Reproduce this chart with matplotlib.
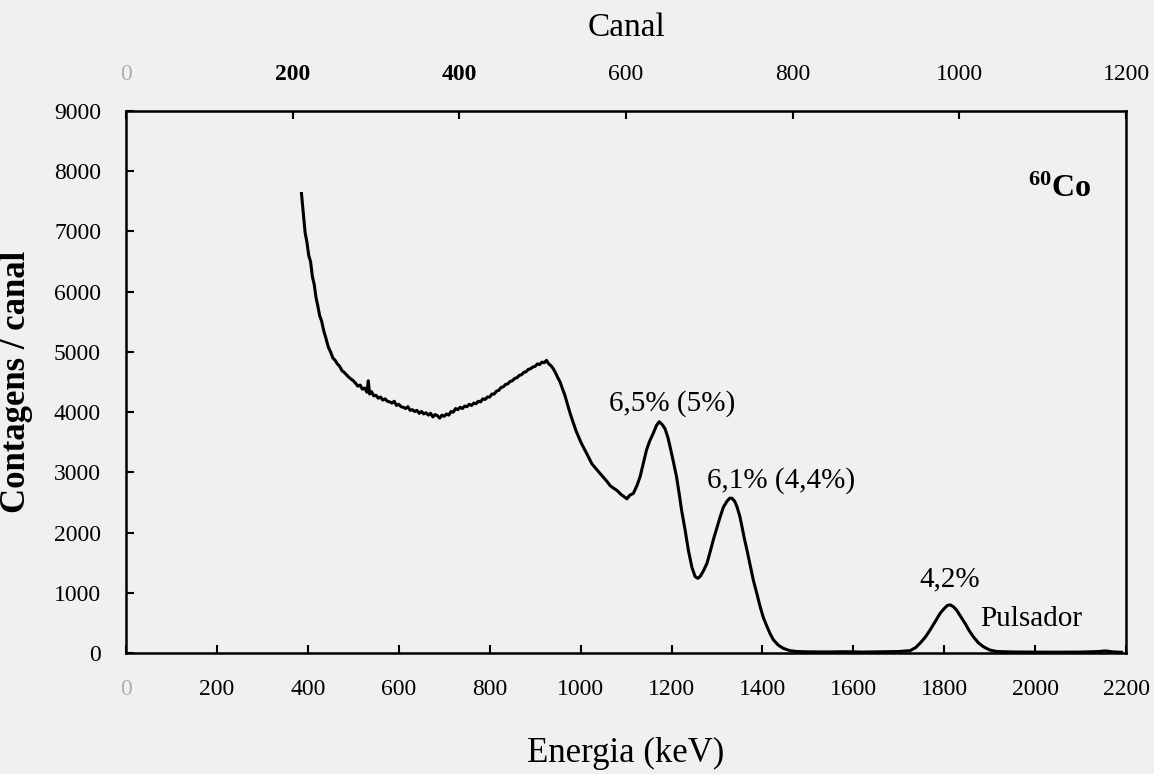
import matplotlib
matplotlib.use("Agg")
import matplotlib.pyplot as plt

plt.rcParams["font.family"] = ["Liberation Serif", "DejaVu Serif"]
plt.rcParams["mathtext.fontset"] = "custom"
plt.rcParams["mathtext.rm"] = "Liberation Serif"
plt.rcParams["mathtext.bf"] = "Liberation Serif:bold"

# ------------------------------------------------------------
# Spectrum (energy in keV, counts per channel)
# ------------------------------------------------------------
energia = [
    386, 390, 394, 398, 402, 406, 410, 414, 418, 422, 426, 430, 435, 440, 445,
    450, 455, 460, 465, 470, 475, 480, 485, 490, 495, 500, 505, 510, 515, 520,
    525, 530, 533, 536, 540, 545, 550, 555, 560, 565, 570, 575, 580, 585, 590,
    595, 600, 605, 610, 615, 620, 625, 630, 635, 640, 645, 650, 655, 660, 665,
    670, 675, 680, 685, 690, 695, 700, 705, 710, 715, 720, 725, 730, 735, 740,
    745, 750, 755, 760, 765, 770, 775, 780, 785, 790, 795, 800, 805, 810, 815,
    820, 825, 830, 835, 840, 845, 850, 855, 860, 865, 870, 875, 880, 885, 890,
    895, 900, 905, 910, 915, 920, 925, 930, 935, 940, 945, 950, 955, 960, 965,
    970, 975, 980, 985, 990, 995, 1000, 1006, 1015, 1025, 1035, 1043, 1050, 1058,
    1065, 1072, 1080, 1088, 1095, 1102, 1108, 1116, 1124, 1131, 1138, 1145, 1152,
    1160, 1167, 1173, 1180, 1186, 1192, 1197, 1204, 1211, 1217, 1222, 1230, 1237,
    1245, 1252, 1258, 1263, 1270, 1278, 1285, 1292, 1300, 1307, 1314, 1322, 1328,
    1333, 1339, 1344, 1350, 1355, 1360, 1366, 1373, 1380, 1388, 1395, 1402, 1410,
    1417, 1424, 1435, 1446, 1460, 1476, 1500, 1540, 1580, 1620, 1660, 1700, 1725,
    1737, 1747, 1758, 1769, 1780, 1791, 1800, 1807, 1813, 1820, 1827, 1836, 1846,
    1855, 1864, 1875, 1886, 1900, 1916, 1950, 2000, 2050, 2100, 2140, 2155, 2170,
    2190,
]
contagens = [
    7630, 7310, 6980, 6820, 6600, 6500, 6250, 6120, 5900, 5760, 5600, 5520, 5350, 5220, 5080,
    5000, 4900, 4860, 4800, 4760, 4690, 4660, 4620, 4580, 4550, 4520, 4480, 4430, 4450, 4380,
    4400, 4330, 4520, 4300, 4340, 4270, 4280, 4230, 4250, 4200, 4220, 4180, 4170, 4150, 4180,
    4110, 4130, 4090, 4080, 4060, 4090, 4030, 4040, 4010, 4030, 3980, 4010, 3970, 3990, 3950,
    3980, 3920, 3960, 3940, 3900, 3950, 3930, 3970, 3950, 4010, 4000, 4060, 4040, 4080, 4060,
    4100, 4090, 4130, 4110, 4150, 4140, 4180, 4170, 4220, 4210, 4250, 4250, 4300, 4300, 4350,
    4360, 4410, 4420, 4460, 4470, 4510, 4520, 4560, 4570, 4610, 4620, 4660, 4670, 4710, 4720,
    4750, 4760, 4800, 4790, 4830, 4820, 4860, 4800, 4770, 4720, 4650, 4570, 4500, 4390, 4290,
    4160, 4030, 3910, 3800, 3690, 3600, 3510, 3420, 3290, 3140, 3050, 2980, 2920, 2850,
    2780, 2740, 2700, 2640, 2600, 2560, 2620, 2650, 2780, 2930, 3150, 3370, 3520,
    3650, 3780, 3840, 3790, 3720, 3580, 3420, 3180, 2930, 2640, 2380, 2040, 1710,
    1420, 1270, 1240, 1270, 1360, 1490, 1680, 1880, 2080, 2260, 2420, 2520, 2570,
    2570, 2520, 2430, 2280, 2100, 1910, 1710, 1460, 1210, 980, 770, 590, 440,
    320, 220, 130, 78, 40, 25, 20, 18, 22, 16, 20, 25, 40,
    90, 165, 260, 385, 520, 660, 740, 790, 800, 770, 715, 610, 490,
    370, 270, 170, 105, 50, 25, 18, 15, 14, 16, 25, 35, 20,
    12,
]

x_ticks = [0, 200, 400, 600, 800, 1000, 1200, 1400, 1600, 1800, 2000, 2200]
y_ticks = [0, 1000, 2000, 3000, 4000, 5000, 6000, 7000, 8000, 9000]
canal_ticks = [0, 200, 400, 600, 800, 1000, 1200]
e_max = 2200
canal_max = 1200

bg = "#f0f0f0"
fig = plt.figure(figsize=(11.54, 7.74), dpi=100, facecolor=bg)
ax = fig.add_axes([0.1092, 0.1563, 0.8666, 0.7003])
ax.set_facecolor(bg)

ax.plot(energia, contagens, color="black", lw=2.2)

ax.set_xlim(0, e_max)
ax.set_ylim(0, 9000)
ax.set_xticks(x_ticks)
ax.set_yticks(y_ticks)
ax.tick_params(axis="both", direction="in", length=6, width=1.5, labelsize=17)
ax.tick_params(axis="x", pad=19)
ax.tick_params(axis="y", pad=18)
for s in ax.spines.values():
    s.set_linewidth(1.8)

ax.set_xlabel("Energia (keV)", fontsize=25)
ax.xaxis.set_label_coords(0.5, -0.155)
ax.set_ylabel("Contagens / canal", fontsize=25, fontweight="bold")
ax.yaxis.set_label_coords(-0.093, 0.5)

# top axis in channels
top = ax.secondary_xaxis("top", functions=(lambda e: e * canal_max / e_max,
                                            lambda c: c * e_max / canal_max))
top.set_xticks(canal_ticks)
top.tick_params(direction="in", length=6, width=1.5, labelsize=17, pad=19)
top.set_xlabel("Canal", fontsize=24, labelpad=20)

# faded zero labels, bold 200/400 on top, as in the scan
ax.get_xticklabels()[0].set_color("#b0b0b0")
top_labels = top.get_xticklabels()
top_labels[0].set_color("#b0b0b0")
top_labels[1].set_fontweight("bold")
top_labels[2].set_fontweight("bold")

ax.text(2055, 7700, r"$\mathbf{^{60}Co}$", fontsize=23, ha="center", va="center")
ax.text(1201, 4150, "6,5% (5%)", fontsize=21, ha="center", va="center")
ax.text(1441, 2870, "6,1% (4,4%)", fontsize=21, ha="center", va="center")
ax.text(1811, 1220, "4,2%", fontsize=21, ha="center", va="center")
ax.text(1880, 560, "Pulsador", fontsize=21, ha="left", va="center")

fig.savefig("out.png", dpi=100, facecolor=bg)
